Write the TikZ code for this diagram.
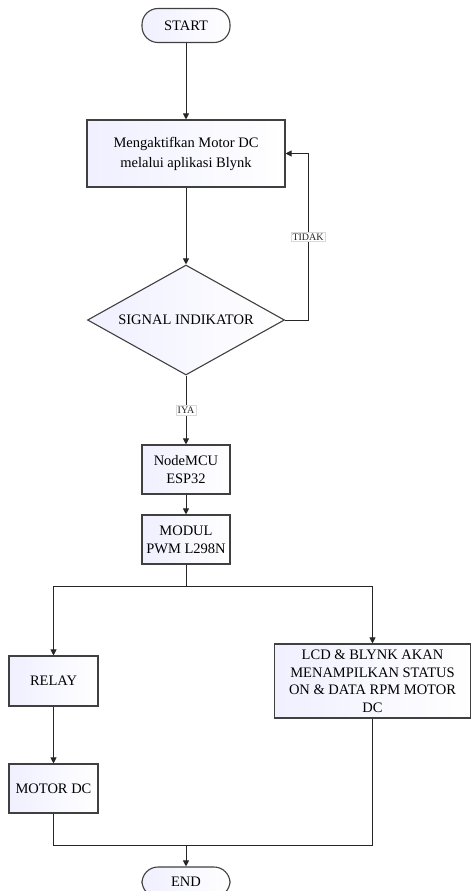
\documentclass[tikz,border=0pt]{standalone}
\usepackage{fontspec}
\setmainfont{Liberation Serif}
\usetikzlibrary{shapes.geometric,arrows.meta}

\begin{document}
\begin{tikzpicture}[x=1pt,y=-1pt]
	\tikzstyle{every node}+=[font=\fontsize{14.5}{18}\selectfont, inner sep=2pt]
	\tikzstyle{proc}=[draw=black!75, line width=1.1pt, left color=blue!6, right color=white, align=center]
	\tikzstyle{term}=[proc, rounded corners=16pt, minimum width=88pt, minimum height=34pt]
	\tikzstyle{decide}=[proc, diamond, shape aspect=1.8, minimum width=197pt, minimum height=110pt, inner sep=0pt]
	\tikzstyle{arr}=[draw=black!85, line width=1pt, -{Triangle[length=6pt,width=6pt]}]
	\tikzstyle{line}=[draw=black!85, line width=1pt]
	\tikzstyle{lbl}=[fill=white, draw=black!15, line width=0.4pt, font=\fontsize{10}{12}\selectfont, inner sep=1.5pt, text=black!85]
	\useasboundingbox (0,0) rectangle (472,891);
	\clip (0,0) rectangle (472,891);
	% nodes
	\node[term] (start) at (186,25.5) {START};
	\node[proc, minimum width=198pt, minimum height=67pt, font=\fontsize{14.5}{20}\selectfont] (act) at (186,153.5) {Mengaktifkan Motor DC\\melalui aplikasi Blynk};
	\node[decide] (sig) at (186,320) {SIGNAL INDIKATOR};
	\node[proc, minimum width=88pt, minimum height=49pt] (mcu) at (186,469.5) {NodeMCU\\ESP32};
	\node[proc, minimum width=88pt, minimum height=49pt] (pwm) at (186,539.5) {MODUL\\PWM L298N};
	\coordinate (split) at (186,586);
	\node[proc, minimum width=89pt, minimum height=50pt] (relay) at (53.5,681) {RELAY};
	\node[proc, minimum width=196pt, minimum height=74pt, font=\fontsize{14.5}{17.5}\selectfont] (lcd) at (372.5,681) {LCD \& BLYNK AKAN\\MENAMPILKAN STATUS\\ON \& DATA RPM MOTOR\\DC};
	\node[proc, minimum width=89pt, minimum height=49pt] (motor) at (53.5,788.5) {MOTOR DC};
	\coordinate (merge) at (186,845);
	\node[term, minimum height=30pt] (end) at (186,882) {END};
	% connectors
	\draw[arr] (start) -- (act);
	\draw[arr] (act) -- (sig);
	\draw[arr] (sig.east) -- ++(23,0) |- (act.east) node[pos=0.25, lbl] {TIDAK};
	\draw[arr] (sig) -- (mcu) node[midway, lbl] {IYA};
	\draw[arr] (mcu) -- (pwm);
	\draw[line] (pwm) -- (split);
	\draw[arr] (split) -| (relay);
	\draw[arr] (split) -| (lcd);
	\draw[arr] (relay) -- (motor);
	\draw[line] (motor) |- (merge);
	\draw[line] (lcd) |- (merge);
	\draw[arr] (merge) -- (end);
\end{tikzpicture}
\end{document}
